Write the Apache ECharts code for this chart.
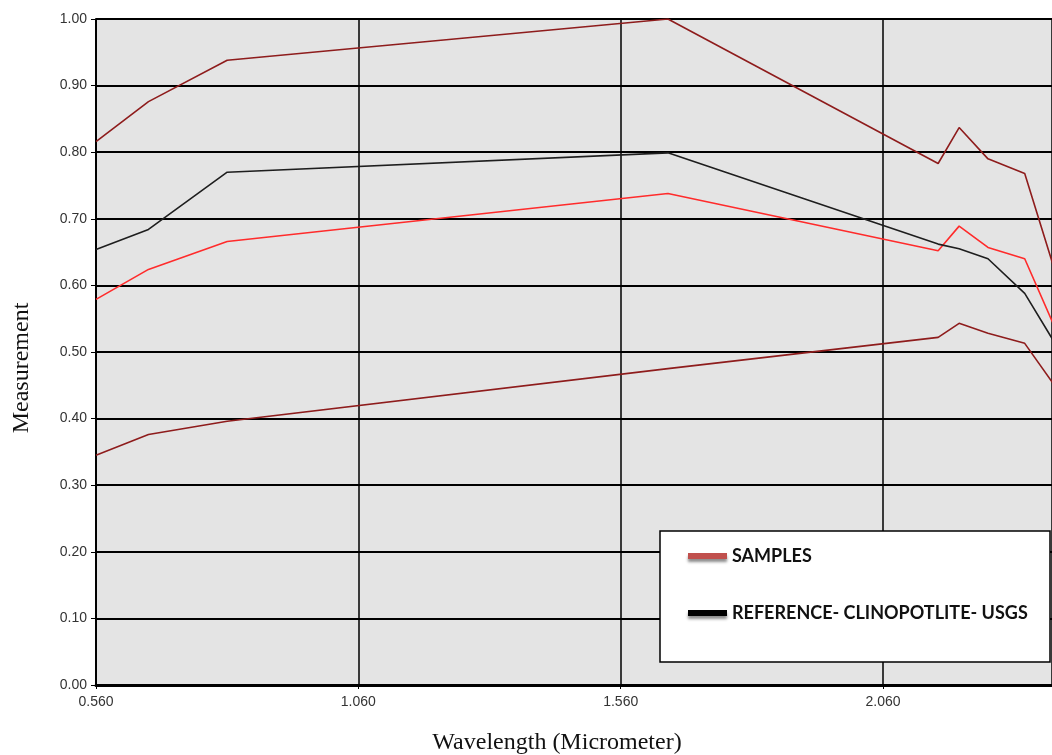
<!DOCTYPE html>
<html>
<head>
<meta charset="utf-8">
<script src="https://cdn.jsdelivr.net/npm/echarts@6/dist/echarts.min.js"></script>
<style>
html, body { margin: 0; padding: 0; background: #fff; }
#chart { width: 1052px; height: 755px; }
</style>
</head>
<body>
<div id="chart"></div>
<script>
// band centres (micrometer)
const wavelengths = [0.56, 0.66, 0.81, 1.65, 2.165, 2.205, 2.26, 2.33, 2.40]
// sample spectra
const sampleHigh = [0.816, 0.876, 0.938, 1.0, 0.783, 0.837, 0.790, 0.768, 0.59]
const sampleMid = [0.579, 0.624, 0.666, 0.738, 0.652, 0.689, 0.657, 0.640, 0.514]
const sampleLow = [0.345, 0.376, 0.396, 0.475, 0.522, 0.543, 0.528, 0.513, 0.435]
// usgs reference spectrum
const reference = [0.654, 0.684, 0.770, 0.799, 0.662, 0.655, 0.640, 0.588, 0.497]
const legendNames = ['SAMPLES', 'REFERENCE- CLINOPOTLITE- USGS']

const pairs = (ys) => wavelengths.map((x, i) => [x, ys[i]])
const narrow = '"Liberation Sans Narrow", "Arial Narrow", "Liberation Sans", sans-serif'
const serif = '"Liberation Serif", "Times New Roman", serif'

function lineSeries(name, data, color) {
  return {
    name: name,
    type: 'line',
    data: pairs(data),
    symbol: 'none',
    smooth: false,
    lineStyle: { color: color, width: 1.6 },
    itemStyle: { color: color },
    z: 3
  }
}

const chart = echarts.init(document.getElementById('chart'))
chart.setOption({
  animation: false,
  backgroundColor: '#fff',
  grid: {
    left: 96, right: 0, top: 19, bottom: 70,
    outerBoundsMode: 'none',
    containLabel: false,
    show: true, backgroundColor: '#e4e4e4', borderWidth: 0
  },
  xAxis: {
    type: 'value',
    min: 0.56,
    max: 2.382,
    interval: 0.5,
    name: 'Wavelength (Micrometer)',
    nameLocation: 'middle',
    nameGap: 46,
    nameTextStyle: { fontFamily: serif, fontSize: 24, color: '#111', padding: [0, 34, 0, 0] },
    axisLine: { show: true, lineStyle: { color: '#000', width: 3 } },
    axisTick: { show: true, length: 4, lineStyle: { color: '#000' } },
    axisLabel: {
      formatter: (v) => v.toFixed(3),
      showMaxLabel: false,
      fontFamily: narrow, fontSize: 14, color: '#333', margin: 10
    },
    splitLine: { show: true, lineStyle: { color: '#000', width: 1.5 } }
  },
  yAxis: {
    type: 'value',
    min: 0,
    max: 1,
    interval: 0.1,
    name: 'Measurement',
    nameLocation: 'middle',
    nameGap: 62,
    nameTextStyle: { fontFamily: serif, fontSize: 24, color: '#111', padding: [0, 32, 0, 0] },
    axisLine: { show: true, lineStyle: { color: '#000', width: 2 } },
    axisTick: { show: true, length: 5, lineStyle: { color: '#000' } },
    axisLabel: {
      formatter: (v) => v.toFixed(2),
      fontFamily: narrow, fontSize: 14, color: '#333', margin: 9
    },
    splitLine: { show: true, lineStyle: { color: '#000', width: 2 } }
  },
  legend: {
    orient: 'vertical',
    left: 683,
    top: 542,
    icon: 'rect',
    itemWidth: 39,
    itemHeight: 6,
    itemGap: 39,
    selectedMode: false,
    textStyle: { fontFamily: 'Lato, "Open Sans", sans-serif', fontWeight: 'bold', fontSize: 18, color: '#111' },
    data: [
      { name: legendNames[0], itemStyle: { color: '#c0504d', shadowBlur: 3, shadowColor: 'rgba(0,0,0,0.45)', shadowOffsetY: 3 } },
      { name: legendNames[1], itemStyle: { color: '#000', shadowBlur: 3, shadowColor: 'rgba(0,0,0,0.45)', shadowOffsetY: 3 } }
    ]
  },
  graphic: [{
    type: 'rect',
    z: 3,
    shape: { x: 660, y: 531, width: 390, height: 131 },
    style: { fill: '#fff', stroke: '#000', lineWidth: 1.5 }
  }],
  series: [
    lineSeries(legendNames[0], sampleHigh, '#8e1c1c'),
    lineSeries(legendNames[0], sampleMid, '#ff2b2b'),
    lineSeries(legendNames[0], sampleLow, '#8e1c1c'),
    lineSeries(legendNames[1], reference, '#1e1e1e')
  ]
})
</script>
</body>
</html>
